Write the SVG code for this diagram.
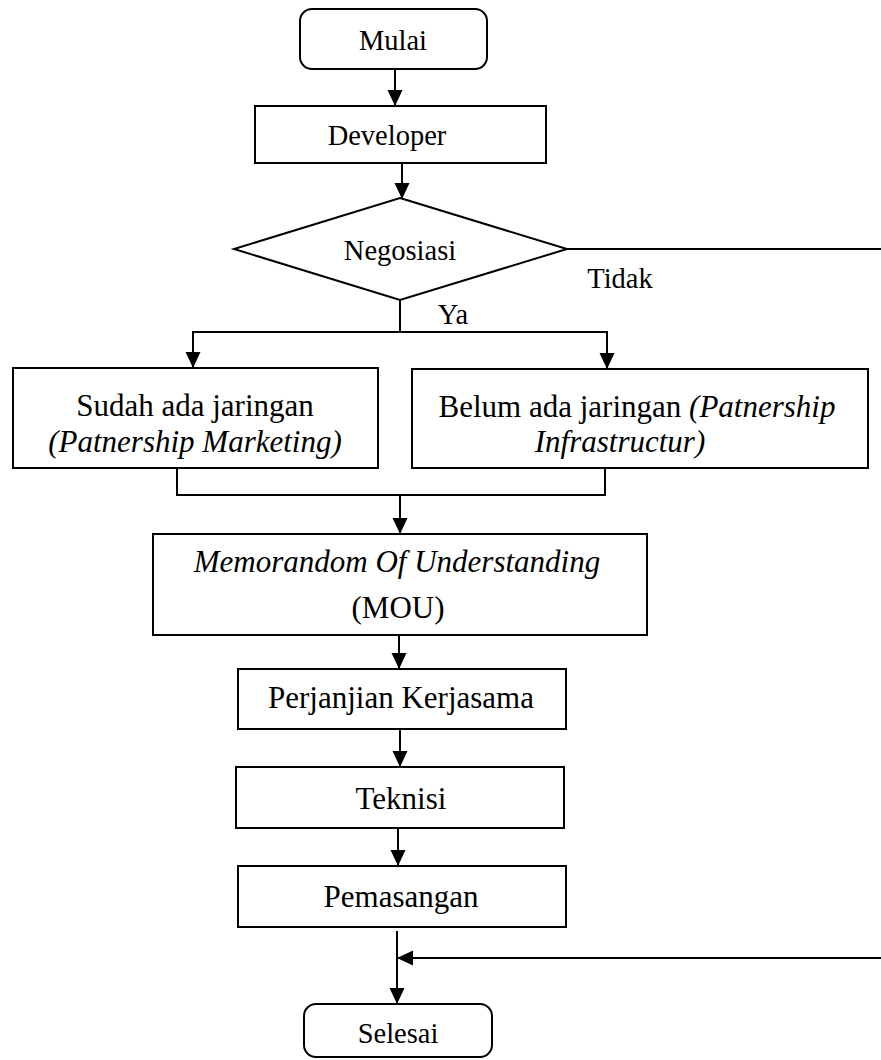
<svg xmlns="http://www.w3.org/2000/svg" width="881" height="1060" viewBox="0 0 881 1060">
<style>
.box{fill:#fff;stroke:#000;stroke-width:2}
.ln{fill:none;stroke:#000;stroke-width:2}
.t{font-family:"Liberation Serif","Times New Roman",serif;fill:#000;text-anchor:middle}
.big{font-size:31px}
.sm{font-size:28.5px}
.it{font-style:italic}
</style>
<defs>
<marker id="ah" markerUnits="userSpaceOnUse" markerWidth="16" markerHeight="16" viewBox="0 0 16 16" refX="16" refY="8" orient="auto">
<path d="M0,0.5 L16,8 L0,15.5 Z" fill="#000"/>
</marker>
</defs>
<rect width="881" height="1060" fill="#fff"/>
<g id="connectors">
<line class="ln" x1="395" y1="69" x2="395" y2="106" marker-end="url(#ah)"/>
<line class="ln" x1="402" y1="163" x2="402" y2="199" marker-end="url(#ah)"/>
<line class="ln" x1="567" y1="249" x2="881" y2="249"/>
<polyline class="ln" points="400,300 400,332"/>
<polyline class="ln" points="193,332 607,332"/>
<line class="ln" x1="193" y1="331" x2="193" y2="368" marker-end="url(#ah)"/>
<line class="ln" x1="607" y1="331" x2="607" y2="369" marker-end="url(#ah)"/>
<polyline class="ln" points="177,468 177,495 605,495 605,468"/>
<line class="ln" x1="400" y1="495" x2="400" y2="534" marker-end="url(#ah)"/>
<line class="ln" x1="399" y1="635" x2="399" y2="669" marker-end="url(#ah)"/>
<line class="ln" x1="400" y1="729" x2="400" y2="767" marker-end="url(#ah)"/>
<line class="ln" x1="398" y1="828" x2="398" y2="866" marker-end="url(#ah)"/>
<line class="ln" x1="397" y1="931" x2="397" y2="1004" marker-end="url(#ah)"/>
<line class="ln" x1="881" y1="958" x2="397" y2="958" marker-end="url(#ah)"/>
<text class="t sm" x="620" y="288">Tidak</text>
<text class="t sm" x="453" y="324">Ya</text>
</g>
<g id="mulai">
<rect class="box" x="300" y="9" width="187" height="60" rx="12"/>
<text class="t sm" x="393" y="50">Mulai</text>
</g>
<g id="developer">
<rect class="box" x="255" y="106" width="291" height="57"/>
<text class="t sm" x="387" y="145">Developer</text>
</g>
<g id="negosiasi">
<polygon class="box" points="400,198 567,249 400,300 234,249"/>
<text class="t sm" x="400" y="260">Negosiasi</text>
</g>
<g id="sudah">
<rect class="box" x="13" y="368" width="365" height="100"/>
<text class="t big" x="195" y="416">Sudah ada jaringan</text>
<text class="t big it" x="195" y="452">(Patnership Marketing)</text>
</g>
<g id="belum">
<rect class="box" x="412" y="369" width="456" height="99"/>
<text class="t big" x="637" y="417">Belum ada jaringan <tspan class="it">(Patnership</tspan></text>
<text class="t big it" x="620" y="452">Infrastructur)</text>
</g>
<g id="mou">
<rect class="box" x="153" y="534" width="494" height="101"/>
<text class="t big it" x="397" y="572">Memorandom Of Understanding</text>
<text class="t big" x="398" y="618">(MOU)</text>
</g>
<g id="perjanjian">
<rect class="box" x="238" y="669" width="328" height="60"/>
<text class="t big" x="401" y="708">Perjanjian Kerjasama</text>
</g>
<g id="teknisi">
<rect class="box" x="236" y="767" width="328" height="61"/>
<text class="t big" x="401" y="809">Teknisi</text>
</g>
<g id="pemasangan">
<rect class="box" x="238" y="866" width="328" height="61"/>
<text class="t big" x="401" y="907">Pemasangan</text>
</g>
<g id="selesai">
<rect class="box" x="304" y="1004" width="188" height="53" rx="12"/>
<text class="t sm" x="398" y="1043">Selesai</text>
</g>
</svg>
